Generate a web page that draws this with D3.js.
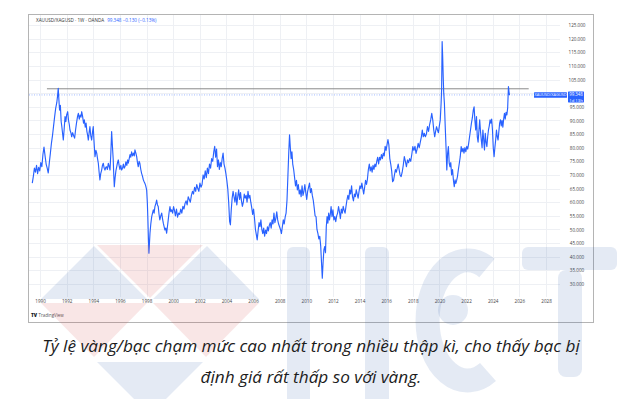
<!DOCTYPE html>
<html><head><meta charset="utf-8">
<script src="https://cdn.jsdelivr.net/npm/d3@7"></script>
<style>
html,body{margin:0;padding:0;background:#fff;}
svg{display:block;}
</style></head><body>
<svg id="c" width="639" height="399"></svg>
<script>
// ---- data (decimal year, gold/silver ratio) ----
const ratioSeries = [
[1989.42,67.0],[1989.50,69.5],[1989.58,72.5],[1989.66,71.0],[1989.74,73.5],[1989.82,70.5],[1989.90,72.8],[1989.98,71.5],
[1990.06,74.5],[1990.14,73.0],[1990.22,77.5],[1990.30,80.2],[1990.38,77.0],[1990.46,74.0],[1990.54,72.5],[1990.62,70.7],
[1990.70,74.5],[1990.78,78.0],[1990.86,81.7],[1990.94,84.5],[1991.02,88.0],[1991.10,91.4],[1991.18,94.5],[1991.26,96.5],
[1991.32,99.0],[1991.37,101.8],[1991.42,97.5],[1991.47,93.8],[1991.53,95.5],[1991.59,89.5],[1991.64,87.7],[1991.70,85.0],
[1991.75,82.8],[1991.81,86.5],[1991.88,91.4],[1991.94,89.5],[1992.00,92.0],[1992.08,93.2],[1992.14,90.0],[1992.20,88.5],
[1992.25,86.5],[1992.32,85.5],[1992.38,84.0],[1992.45,85.5],[1992.52,84.5],[1992.60,83.5],[1992.67,86.5],[1992.74,89.0],
[1992.82,91.5],[1992.88,92.6],[1992.95,90.5],[1993.02,92.0],[1993.08,91.2],[1993.13,93.2],[1993.20,91.5],[1993.27,89.0],
[1993.33,90.2],[1993.40,87.5],[1993.46,89.0],[1993.52,86.0],[1993.58,84.5],[1993.63,82.8],[1993.69,85.5],[1993.75,87.7],
[1993.81,84.5],[1993.88,82.8],[1993.94,85.5],[1994.00,87.7],[1994.06,82.0],[1994.13,76.7],[1994.20,79.0],[1994.26,78.0],
[1994.32,76.0],[1994.38,74.3],[1994.44,71.0],[1994.50,68.2],[1994.56,70.5],[1994.63,71.8],[1994.69,73.5],[1994.75,74.3],
[1994.82,72.5],[1994.88,71.8],[1994.94,72.8],[1995.00,73.0],[1995.06,72.0],[1995.13,74.3],[1995.20,73.0],[1995.26,71.8],
[1995.32,78.0],[1995.38,85.9],[1995.44,80.5],[1995.50,75.5],[1995.54,70.0],[1995.58,65.7],[1995.64,69.0],[1995.70,71.5],
[1995.76,73.0],[1995.82,74.5],[1995.88,75.5],[1995.94,73.5],[1996.00,72.0],[1996.07,73.5],[1996.13,71.8],[1996.20,72.5],
[1996.26,74.0],[1996.32,72.5],[1996.38,73.0],[1996.45,74.8],[1996.52,73.5],[1996.58,75.5],[1996.63,74.3],[1996.70,76.0],
[1996.76,77.5],[1996.82,76.5],[1996.88,78.5],[1996.95,77.0],[1997.02,78.0],[1997.08,77.0],[1997.13,79.2],[1997.20,78.0],
[1997.26,76.7],[1997.32,74.5],[1997.38,73.0],[1997.44,75.0],[1997.50,74.3],[1997.57,72.0],[1997.63,70.6],[1997.70,69.5],
[1997.76,68.2],[1997.82,67.5],[1997.88,66.9],[1997.94,66.0],[1998.01,64.5],[1998.06,60.0],[1998.10,54.0],[1998.14,47.0],
[1998.18,41.3],[1998.22,45.0],[1998.26,48.6],[1998.32,52.0],[1998.39,54.7],[1998.45,56.0],[1998.51,57.2],[1998.57,56.0],
[1998.63,58.4],[1998.70,59.5],[1998.76,60.8],[1998.82,59.0],[1998.88,58.4],[1998.94,55.5],[1999.00,53.5],[1999.07,55.0],
[1999.14,56.0],[1999.20,54.0],[1999.26,52.3],[1999.32,51.0],[1999.38,49.8],[1999.45,50.5],[1999.51,48.6],[1999.57,51.0],
[1999.63,53.5],[1999.70,56.5],[1999.76,58.4],[1999.82,56.5],[1999.89,57.2],[1999.96,56.0],[2000.03,58.4],[2000.10,57.0],
[2000.17,55.0],[2000.25,57.5],[2000.33,54.5],[2000.41,56.0],[2000.49,55.5],[2000.57,57.5],[2000.65,56.0],[2000.73,58.5],
[2000.81,57.5],[2000.89,59.5],[2000.97,60.5],[2001.05,59.0],[2001.13,62.0],[2001.21,61.0],[2001.29,60.0],[2001.37,62.5],
[2001.45,64.0],[2001.53,63.0],[2001.61,65.5],[2001.69,64.0],[2001.77,66.5],[2001.85,65.0],[2001.93,64.0],[2002.01,67.0],
[2002.09,65.5],[2002.17,66.5],[2002.25,70.0],[2002.33,68.5],[2002.41,71.5],[2002.49,69.0],[2002.57,72.5],[2002.65,70.5],
[2002.73,74.0],[2002.81,72.5],[2002.89,76.0],[2002.97,75.0],[2003.05,78.5],[2003.12,80.5],[2003.19,76.5],[2003.26,79.5],
[2003.33,73.0],[2003.40,75.5],[2003.47,72.0],[2003.54,74.5],[2003.61,73.0],[2003.68,76.0],[2003.75,78.0],[2003.82,74.0],
[2003.89,72.5],[2003.96,70.5],[2004.03,68.0],[2004.10,65.0],[2004.17,60.0],[2004.24,53.0],[2004.30,51.7],[2004.36,57.0],
[2004.43,61.5],[2004.50,64.0],[2004.57,62.0],[2004.64,60.0],[2004.71,63.5],[2004.78,59.0],[2004.85,62.0],[2004.92,64.5],
[2004.99,61.0],[2005.06,63.5],[2005.13,60.5],[2005.20,58.5],[2005.27,60.0],[2005.34,63.0],[2005.41,61.5],[2005.48,62.5],
[2005.55,60.0],[2005.62,64.0],[2005.69,61.5],[2005.76,62.5],[2005.83,60.0],[2005.90,58.0],[2005.97,55.5],[2006.04,57.5],
[2006.11,54.0],[2006.18,50.0],[2006.25,48.0],[2006.31,46.2],[2006.38,49.5],[2006.45,52.5],[2006.52,51.0],[2006.59,53.5],
[2006.66,50.0],[2006.73,48.5],[2006.80,50.5],[2006.87,47.5],[2006.94,49.8],[2007.01,48.5],[2007.08,51.0],[2007.15,49.5],
[2007.22,51.5],[2007.29,52.5],[2007.36,50.5],[2007.43,53.5],[2007.50,52.0],[2007.57,56.0],[2007.64,52.5],[2007.71,54.0],
[2007.78,56.5],[2007.85,53.5],[2007.92,52.0],[2007.99,51.0],[2008.06,50.0],[2008.13,48.5],[2008.20,51.0],[2008.27,53.5],
[2008.34,52.0],[2008.41,54.5],[2008.48,56.0],[2008.55,60.8],[2008.62,70.0],[2008.68,78.0],[2008.74,84.7],[2008.80,80.0],
[2008.86,76.0],[2008.92,78.5],[2008.98,74.0],[2009.05,72.0],[2009.12,69.0],[2009.19,66.0],[2009.26,68.0],[2009.33,64.5],
[2009.40,66.5],[2009.47,63.0],[2009.54,64.5],[2009.61,62.0],[2009.68,66.0],[2009.75,62.5],[2009.82,64.0],[2009.89,66.5],
[2009.96,63.5],[2010.03,61.0],[2010.10,64.0],[2010.17,65.5],[2010.24,67.0],[2010.31,63.5],[2010.38,65.0],[2010.45,62.5],
[2010.52,60.8],[2010.59,58.0],[2010.66,55.0],[2010.73,54.7],[2010.80,50.0],[2010.87,48.6],[2010.94,46.5],[2011.01,47.5],
[2011.08,44.0],[2011.14,38.0],[2011.20,32.1],[2011.26,38.0],[2011.32,42.5],[2011.38,43.7],[2011.44,41.5],[2011.50,51.0],
[2011.56,54.7],[2011.62,52.3],[2011.68,56.0],[2011.74,53.5],[2011.80,55.5],[2011.86,58.4],[2011.93,54.7],[2012.00,57.2],
[2012.07,53.5],[2012.14,54.7],[2012.21,52.9],[2012.28,55.0],[2012.35,56.0],[2012.42,58.4],[2012.49,56.5],[2012.56,54.0],
[2012.63,57.5],[2012.70,56.0],[2012.77,58.5],[2012.84,57.0],[2012.91,56.0],[2012.98,58.5],[2013.05,60.8],[2013.12,62.5],
[2013.19,61.0],[2013.26,64.5],[2013.33,63.0],[2013.40,66.0],[2013.47,62.0],[2013.54,60.5],[2013.61,63.0],[2013.68,62.0],
[2013.75,64.5],[2013.82,63.0],[2013.89,61.5],[2013.96,64.0],[2014.03,66.0],[2014.10,65.0],[2014.17,67.0],[2014.24,65.0],
[2014.31,63.0],[2014.38,65.5],[2014.45,68.0],[2014.52,66.5],[2014.59,68.5],[2014.66,72.0],[2014.73,74.0],[2014.80,71.5],
[2014.87,73.0],[2014.94,71.0],[2015.01,73.5],[2015.08,72.0],[2015.15,74.0],[2015.22,73.0],[2015.29,75.0],[2015.36,76.5],
[2015.43,74.0],[2015.50,76.5],[2015.57,75.5],[2015.64,77.5],[2015.71,76.0],[2015.78,78.0],[2015.85,77.0],[2015.92,80.5],
[2015.99,79.0],[2016.06,81.0],[2016.13,83.0],[2016.20,81.0],[2016.27,76.0],[2016.34,74.0],[2016.41,71.5],[2016.48,67.5],
[2016.55,68.0],[2016.62,70.0],[2016.69,72.0],[2016.76,71.0],[2016.83,72.5],[2016.90,74.0],[2016.97,72.0],[2017.04,70.0],
[2017.12,69.4],[2017.20,71.0],[2017.28,73.5],[2017.36,76.7],[2017.44,75.0],[2017.52,73.0],[2017.60,75.5],[2017.68,74.5],
[2017.76,76.0],[2017.84,75.0],[2017.92,77.5],[2018.00,80.4],[2018.08,79.0],[2018.16,80.5],[2018.24,77.9],[2018.32,79.5],
[2018.40,81.6],[2018.48,80.0],[2018.56,82.0],[2018.64,84.0],[2018.71,86.5],[2018.78,84.0],[2018.86,85.3],[2018.94,84.0],
[2019.02,85.0],[2019.10,87.7],[2019.18,86.0],[2019.26,88.5],[2019.34,90.2],[2019.42,92.6],[2019.50,90.0],[2019.57,86.5],
[2019.64,84.0],[2019.71,86.0],[2019.78,87.7],[2019.85,86.5],[2019.92,85.5],[2019.99,88.0],[2020.06,90.2],[2020.12,96.0],
[2020.16,101.2],[2020.20,118.9],[2020.24,113.4],[2020.28,106.0],[2020.32,100.0],[2020.37,96.3],[2020.43,88.0],[2020.49,80.4],
[2020.55,71.8],[2020.61,77.9],[2020.67,80.4],[2020.73,74.3],[2020.79,73.0],[2020.85,74.5],[2020.91,70.0],[2020.98,72.0],
[2021.05,68.0],[2021.11,65.7],[2021.17,68.2],[2021.23,66.9],[2021.29,68.0],[2021.35,69.4],[2021.42,72.0],[2021.49,74.3],
[2021.56,76.7],[2021.63,80.4],[2021.70,78.5],[2021.77,79.8],[2021.84,78.0],[2021.91,80.0],[2021.98,78.5],[2022.05,80.5],
[2022.12,79.5],[2022.19,81.5],[2022.26,84.0],[2022.33,86.5],[2022.40,89.0],[2022.47,91.0],[2022.54,93.8],[2022.60,95.0],
[2022.66,90.0],[2022.72,86.5],[2022.78,91.4],[2022.84,84.0],[2022.90,82.0],[2022.96,86.0],[2023.02,90.2],[2023.08,86.0],
[2023.14,82.8],[2023.20,80.0],[2023.26,86.5],[2023.32,83.0],[2023.38,79.2],[2023.44,85.3],[2023.50,82.0],[2023.56,80.4],
[2023.62,84.0],[2023.68,86.5],[2023.74,88.0],[2023.80,90.2],[2023.86,89.0],[2023.92,90.5],[2023.98,86.5],[2024.04,80.0],
[2024.10,76.7],[2024.16,80.0],[2024.22,82.8],[2024.28,86.5],[2024.34,84.0],[2024.40,82.8],[2024.46,86.0],[2024.52,89.0],
[2024.58,90.2],[2024.64,88.0],[2024.70,90.0],[2024.76,87.5],[2024.82,90.5],[2024.88,92.6],[2024.94,90.5],[2025.00,93.0],
[2025.06,92.0],[2025.12,94.5],[2025.18,102.4],[2025.22,100.5],[2025.26,99.3]
];
const yearTicks = [1990,1992,1994,1996,1998,2000,2002,2004,2006,2008,2010,2012,2014,2016,2018,2020,2022,2024,2026,2028];
const priceTicks = [30,35,40,45,50,55,60,65,70,75,80,85,90,95,100,105,110,115,120,125];
const hiddenPriceLabels = [100]; // covered by the last-value badge in the reference
const lastValue = 99.348;
const resistanceLevel = 101.6;
const resistanceSpan = [1990.52, 2026.7];
const headerSymbol = "XAUUSD/XAGUSD · 1W · OANDA";
const headerQuote = "99.348  −0.130 (−0.13%)";
const seriesName = "XAUUSD/XAGUSD";
const countdown = "1d 13h";
const captionLines = ["Tỷ lệ vàng/bạc chạm mức cao nhất trong nhiều thập kì, cho thấy bạc bị",
                      "định giá rất thấp so với vàng."];

// ---- layout ----
const svg = d3.select("#c");
const frame = {x0:28, x1:593, y0:14, y1:322};
const plot = {x0:28, x1:560, y0:14, y1:297};
const x = d3.scaleLinear().domain([1990, 2028]).range([40, 546]);
const y = d3.scaleLinear().domain([30, 125]).range([284, 25]);
const blue = "#2962ff";
const tickFont = "'Open Sans', sans-serif";

svg.append("rect").attr("x",0).attr("y",0).attr("width",639).attr("height",399).attr("fill","#fff");
svg.append("rect").attr("x",frame.x0+0.5).attr("y",frame.y0+0.5)
  .attr("width",frame.x1-frame.x0).attr("height",frame.y1-frame.y0)
  .attr("fill","#fff").attr("stroke","#b4b4b4").attr("stroke-width",1);

// grid
const grid = svg.append("g");
grid.selectAll(".hg").data(priceTicks).join("line")
  .attr("x1",plot.x0+1).attr("x2",plot.x1).attr("y1",d=>Math.round(y(d))+0.5).attr("y2",d=>Math.round(y(d))+0.5)
  .attr("stroke","#eef0f4").attr("stroke-width",1);
grid.selectAll(".vg").data(yearTicks).join("line")
  .attr("x1",d=>Math.round(x(d))+0.5).attr("x2",d=>Math.round(x(d))+0.5).attr("y1",plot.y0+1).attr("y2",plot.y1)
  .attr("stroke","#eef0f4").attr("stroke-width",1);

// axes
const xAxis = d3.axisBottom(x).tickValues(yearTicks).tickFormat(d3.format("d")).tickSize(0).tickPadding(0);
const gx = svg.append("g").attr("transform",`translate(0,${301})`).call(xAxis);
gx.select(".domain").remove();
gx.selectAll("text").attr("font-family",tickFont).attr("font-size",4.6).attr("fill","#444").attr("dy","0.35em");

const labelTicks = priceTicks.filter(v => !hiddenPriceLabels.includes(v));
const yAxis = d3.axisRight(y).tickValues(labelTicks).tickFormat(d3.format(".3f")).tickSize(0).tickPadding(0);
const gy = svg.append("g").attr("transform",`translate(${577},0)`).call(yAxis);
gy.select(".domain").remove();
gy.selectAll("text").attr("font-family",tickFont).attr("font-size",4.6).attr("fill","#444")
  .attr("text-anchor","middle").attr("dy","0.35em");

// clip
svg.append("clipPath").attr("id","pc").append("rect")
  .attr("x",plot.x0).attr("y",plot.y0).attr("width",plot.x1-plot.x0).attr("height",plot.y1-plot.y0);

// resistance line
svg.append("line").attr("x1",x(resistanceSpan[0])).attr("x2",x(resistanceSpan[1]))
  .attr("y1",y(resistanceLevel)).attr("y2",y(resistanceLevel))
  .attr("stroke","#8a8a8a").attr("stroke-width",1);

// last value dotted line
svg.append("line").attr("x1",plot.x0+1).attr("x2",534).attr("y1",y(lastValue)).attr("y2",y(lastValue))
  .attr("stroke",blue).attr("stroke-opacity",0.55).attr("stroke-width",0.8).attr("stroke-dasharray","1,1.5");

// series
const line = d3.line().x(d=>x(d[0])).y(d=>y(d[1])).curve(d3.curveLinear);
svg.append("path").datum(ratioSeries).attr("clip-path","url(#pc)")
  .attr("d",line).attr("fill","none").attr("stroke",blue).attr("stroke-width",1.15)
  .attr("stroke-linejoin","round");

// labels on price scale
const yl = y(lastValue);
svg.append("rect").attr("x",534).attr("y",yl-2.6).attr("width",33).attr("height",5.4).attr("fill",blue).attr("rx",0.6);
svg.append("text").attr("x",550.5).attr("y",yl).attr("dy","0.35em").attr("text-anchor","middle")
  .attr("font-family",tickFont).attr("font-size",3.9).attr("fill","#fff").text(seriesName);
svg.append("rect").attr("x",568).attr("y",yl-3.5).attr("width",16).attr("height",11).attr("fill",blue).attr("rx",0.6);
svg.append("text").attr("x",576).attr("y",yl-0.3).attr("dy","0.35em").attr("text-anchor","middle")
  .attr("font-family",tickFont).attr("font-size",4.4).attr("fill","#fff").text(d3.format(".3f")(lastValue));
svg.append("text").attr("x",576).attr("y",yl+5.1).attr("dy","0.35em").attr("text-anchor","middle")
  .attr("font-family",tickFont).attr("font-size",4.2).attr("fill","#fff").text(countdown);

// header
const hdr = svg.append("text").attr("x",36).attr("y",20.5).attr("dy","0.35em")
  .attr("font-family",tickFont).attr("font-size",4.6);
hdr.append("tspan").attr("fill","#333").text(headerSymbol);
hdr.append("tspan").attr("fill",blue).attr("dx",3).text(headerQuote);

// TradingView mark
svg.append("text").attr("x",31).attr("y",315.5).attr("dy","0.35em").attr("font-family",tickFont)
  .attr("font-size",4.8).attr("font-weight",800).attr("fill","#131722").text("TV");
svg.append("text").attr("x",38.5).attr("y",315.5).attr("dy","0.35em").attr("font-family",tickFont)
  .attr("font-size",4.4).attr("fill","#555").text("TradingView");

// ---- watermark (HGT logo) ----
const wm = svg.append("g").attr("pointer-events","none");
const wb = "#2f5ea8", wr = "#d23c3c", op = 0.13;
const tri = pts => "M" + pts.map(p=>p.join(",")).join("L") + "Z";
wm.append("path").attr("d",tri([[97,245],[203,245],[150,298]])).attr("fill",wr).attr("fill-opacity",op);
wm.append("path").attr("d",tri([[94,246],[41,299],[147,299]])).attr("fill",wb).attr("fill-opacity",op);
wm.append("path").attr("d",tri([[41,303],[147,303],[94,357]])).attr("fill",wr).attr("fill-opacity",op);
wm.append("path").attr("d",tri([[207,246],[153,299],[259,299]])).attr("fill",wb).attr("fill-opacity",op);
wm.append("path").attr("d",tri([[153,303],[259,303],[206,357]])).attr("fill",wr).attr("fill-opacity",op);
wm.append("path").attr("d",tri([[97,362],[203,362],[150,415]])).attr("fill",wb).attr("fill-opacity",op);
// H
wm.append("rect").attr("x",287).attr("y",247).attr("width",23).attr("height",170).attr("rx",6).attr("fill",wb).attr("fill-opacity",op);
wm.append("rect").attr("x",365).attr("y",247).attr("width",24).attr("height",170).attr("rx",6).attr("fill",wb).attr("fill-opacity",op);
// G / C
wm.append("path").attr("d","M 487 268 A 40 60 0 1 0 488 372").attr("fill","none")
  .attr("stroke",wb).attr("stroke-opacity",op).attr("stroke-width",24);
wm.append("circle").attr("cx",453).attr("cy",310).attr("r",15).attr("fill",wb).attr("fill-opacity",op);
// T
wm.append("rect").attr("x",522).attr("y",247).attr("width",95).attr("height",23).attr("rx",6).attr("fill",wb).attr("fill-opacity",op);
wm.append("rect").attr("x",558).attr("y",270).attr("width",24).attr("height",107).attr("rx",8).attr("fill",wb).attr("fill-opacity",op);

// ---- caption ----
const cap = svg.append("g");
const c1 = cap.append("text").attr("x",311).attr("y",352).attr("text-anchor","middle")
  .attr("font-family","'Open Sans', sans-serif").attr("font-style","italic").attr("font-size",17)
  .attr("fill","#1c1c1c").text(captionLines[0]);
const len = c1.node().getComputedTextLength();
const fs = 17 * 538 / len;
c1.attr("font-size",fs);
cap.append("text").attr("x",311).attr("y",383).attr("text-anchor","middle")
  .attr("font-family","'Open Sans', sans-serif").attr("font-style","italic").attr("font-size",fs)
  .attr("fill","#1c1c1c").text(captionLines[1]);
</script>
</body></html>
